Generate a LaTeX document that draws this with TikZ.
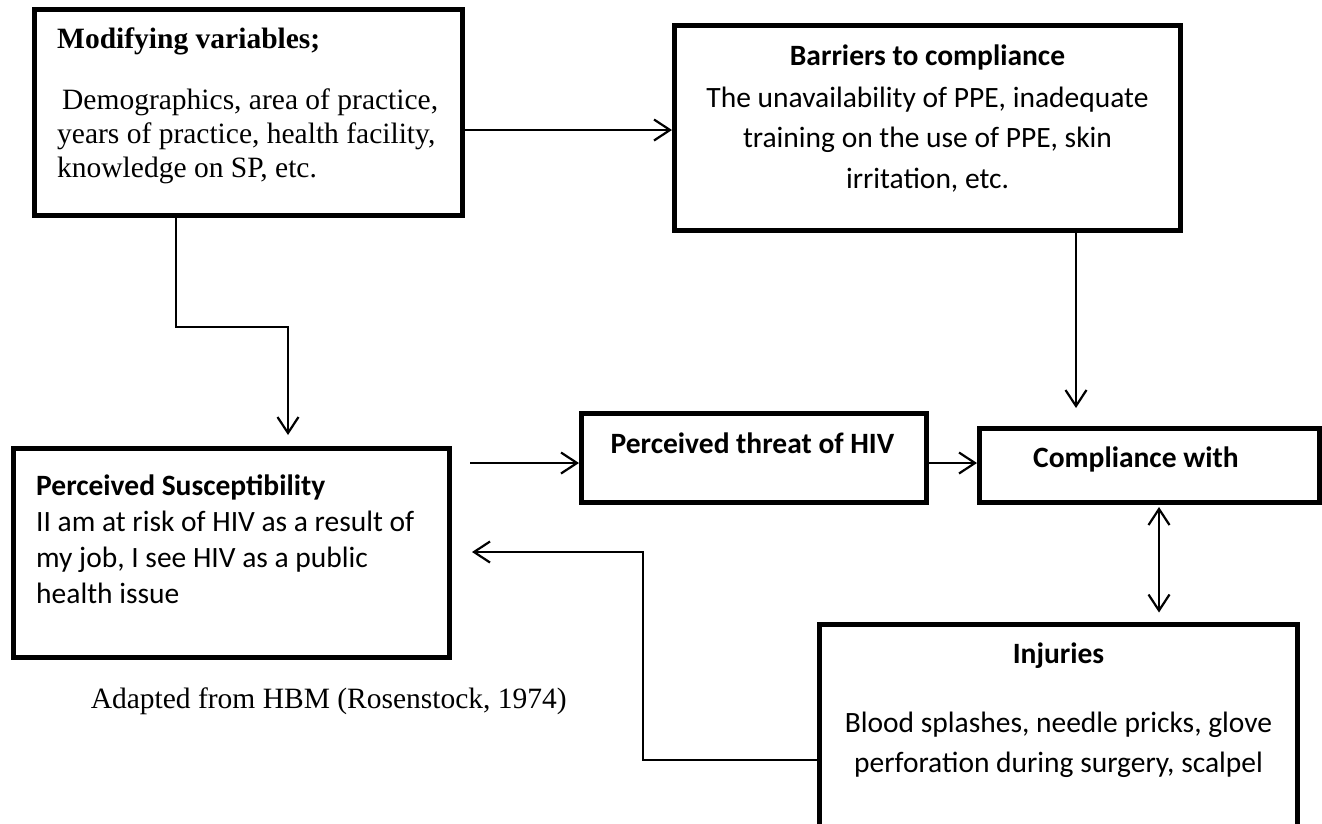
\documentclass[tikz,border=0pt]{standalone}
\usepackage{fontspec}
\setmainfont{Liberation Serif}
\newfontfamily\calfont{Carlito}
\usetikzlibrary{arrows.meta}
\newcommand\tsz{\fontsize{29.5pt}{34pt}\selectfont}
\tikzset{
  boxnode/.style={draw=black, line width=5pt, inner sep=0pt},
  conn/.style={line width=2.2pt, -{Straight Barb[length=16pt,width=21pt]}},
  conntwo/.style={line width=2.2pt, {Straight Barb[length=16pt,width=21pt]}-{Straight Barb[length=16pt,width=21pt]}},
  sertxt/.style={font=\tsz, inner sep=0pt},
  caltxt/.style={font=\calfont\tsz, inner sep=0pt},
}
\begin{document}
\begin{tikzpicture}[x=1pt,y=-1pt]
\clip (0,0) rectangle (1322,823);
\fill[white] (0,0) rectangle (1322,823);

% boxes
\node[boxnode, minimum width=428pt, minimum height=206pt] (mod) at (248.5,112.5) {};
\node[boxnode, minimum width=506pt, minimum height=205pt] (bar) at (927.5,128) {};
\node[boxnode, minimum width=436pt, minimum height=209pt] (sus) at (231.5,553) {};
\node[boxnode, minimum width=345pt, minimum height=89.5pt] (thr) at (754,457.75) {};
\node[boxnode, minimum width=340pt, minimum height=74pt] (comp) at (1149.5,465.5) {};
\node[boxnode, minimum width=478pt, minimum height=216pt] (inj) at (1058.5,732) {};

% Modifying variables
\node[sertxt, anchor=base west] (modt) at (57,48) {\bfseries Modifying variables;};
\node[sertxt, anchor=base west] (modl1) at (62,109) {Demographics, area of practice,};
\node[sertxt, anchor=base west] (modl2) at (57,143) {years of practice, health facility,};
\node[sertxt, anchor=base west] (modl3) at (57,177) {knowledge on SP, etc.};

% Barriers
\node[caltxt, anchor=base] (bart) at (927.5,65) {\bfseries Barriers to compliance};
\node[caltxt, anchor=base] (barl1) at (927.5,107) {The unavailability of PPE, inadequate};
\node[caltxt, anchor=base] (barl2) at (927.5,147) {training on the use of PPE, skin};
\node[caltxt, anchor=base] (barl3) at (927.5,188) {irritation, etc.};

% Perceived susceptibility
\node[caltxt, anchor=base west] (sust) at (36,495) {\bfseries Perceived Susceptibility};
\node[caltxt, anchor=base west] (susl1) at (36,531) {II am at risk of HIV as a result of};
\node[caltxt, anchor=base west] (susl2) at (36,567) {my job, I see HIV as a public};
\node[caltxt, anchor=base west] (susl3) at (36,603) {health issue};

% Threat
\node[caltxt, anchor=base] (thrt) at (752.5,453) {\bfseries Perceived threat of HIV};

% Compliance
\node[caltxt, anchor=base west] (compt) at (1033,467) {\bfseries Compliance with};

% Injuries
\node[caltxt, anchor=base] (injt) at (1058.5,663) {\bfseries Injuries};
\node[caltxt, anchor=base] (injl1) at (1058.5,732) {Blood splashes, needle pricks, glove};
\node[caltxt, anchor=base] (injl2) at (1058.5,772) {perforation during surgery, scalpel};

% caption
\node[sertxt, anchor=base east] (cap) at (567,708) {Adapted from HBM (Rosenstock, 1974)};

% connectors
\draw[conn] (mod.east |- 0,130) -- (bar.west |- 0,130);
\draw[conn, shorten >=11pt] (mod.south -| 176,0) |- (288,327) -- (sus.north -| 288,0);
\draw[conn, shorten >=18pt] (bar.south -| 1076,0) -- (comp.north -| 1076,0);
\draw[conn, shorten <=18pt] (sus.east |- 0,463) -- (thr.west |- 0,463);
\draw[conn] (thr.east |- 0,463) -- (comp.west |- 0,463);
\draw[conntwo, shorten <=2pt, shorten >=9pt] (comp.south -| 1159,0) -- (inj.north -| 1159,0);
\draw[conn, shorten >=20pt] (inj.west |- 0,760) -| (643,552) -- (sus.east |- 0,552);
\end{tikzpicture}
\end{document}
